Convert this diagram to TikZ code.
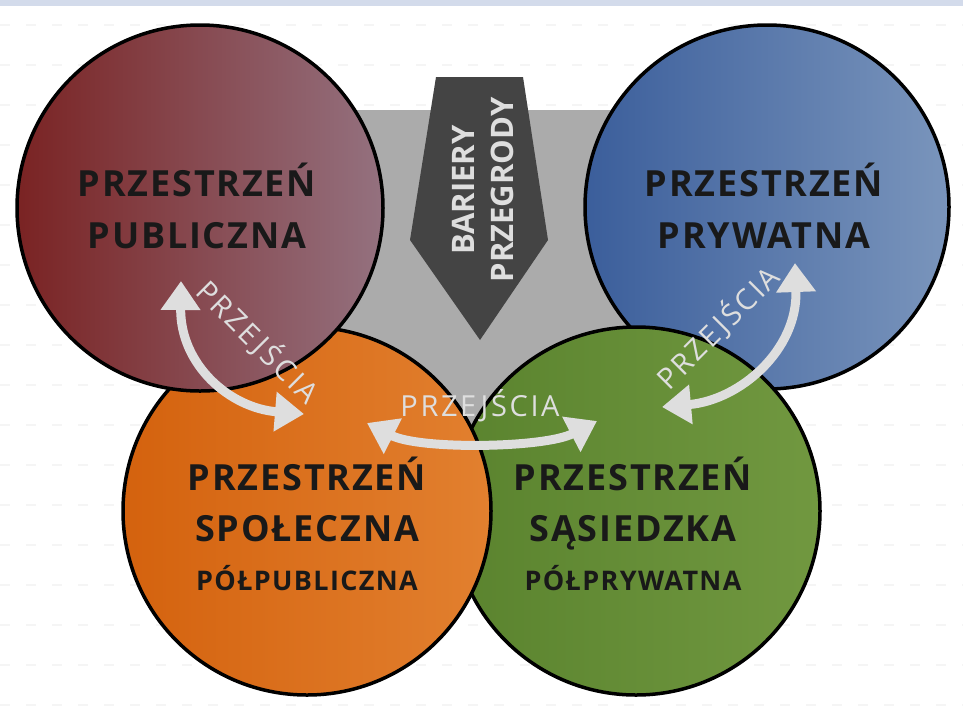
\documentclass[tikz,border=0pt]{standalone}
\usepackage{fontspec}
\setmainfont{Open Sans}
\newfontfamily\spacedfont[LetterSpace=5]{Open Sans}
\newfontfamily\passfont[LetterSpace=9]{Open Sans}
\usetikzlibrary{arrows.meta}
\definecolor{redA}{HTML}{7A2323}
\definecolor{redB}{HTML}{94717F}
\definecolor{blueA}{HTML}{3B5E9B}
\definecolor{blueB}{HTML}{7A95BC}
\definecolor{orangeA}{HTML}{D4620E}
\definecolor{orangeB}{HTML}{E2802F}
\definecolor{greenA}{HTML}{5A832E}
\definecolor{greenB}{HTML}{719840}
\definecolor{barrier}{HTML}{444444}
\definecolor{passage}{HTML}{DEDEDE}
\definecolor{topband}{HTML}{D3DBEB}

\begin{document}
\begin{tikzpicture}[x=1pt, y=-1pt,
        circ/.style={circle, draw=black, line width=3.5pt, minimum size=#1, inner sep=0pt},
        head/.style={anchor=base, text=black!90, font=\spacedfont\bfseries\fontsize{36}{40}\selectfont},
        sub/.style={anchor=base, text=black!90, font=\spacedfont\bfseries\fontsize{27}{30}\selectfont},
        pass/.style={text=passage, text height=21pt, text depth=0pt, font=\passfont\fontsize{29}{32}\selectfont},
        bar/.style={rotate=90, text=passage, text height=22pt, text depth=0pt, font=\bfseries\fontsize{31}{34}\selectfont},
        arr/.style={{Triangle[length=29pt,width=38pt]}-{Triangle[length=29pt,width=38pt]}, line width=9pt, draw=passage}]
      \useasboundingbox (0,0) rectangle (963,721);
      \fill[topband] (0,0) rectangle (963,6);
      \foreach \y in {25,65,...,705}
        \draw[black!4, line width=1.5pt, dash pattern=on 10pt off 16pt] (0,\y) -- (963,\y);
      \fill[black!33] (300,110) rectangle (680,480);
      \fill[barrier] (436,77) -- (523,77) -- (548,240) -- (480,340) -- (410,240) -- cycle;
      \node[bar] (bar1) at (463,190) {BARIERY};
      \node[bar] (bar2) at (502,190) {PRZEGRODY};
      \node[circ=364pt, left color=blueA, right color=blueB] (pryw) at (767,207) {};
      \node[circ=368pt, left color=greenA, right color=greenB] (sas) at (636,511) {};
      \node[circ=368pt, left color=orangeA, right color=orangeB] (spol) at (307,511) {};
      \node[circ=366pt, left color=redA, right color=redB] (publ) at (200,208) {};
      \node[head] (publ1) at (197,196) {PRZESTRZEŃ};
      \node[head] (publ2) at (197,248) {PUBLICZNA};
      \node[head] (pryw1) at (764,196) {PRZESTRZEŃ};
      \node[head] (pryw2) at (764,248) {PRYWATNA};
      \node[head] (spol1) at (307,490) {PRZESTRZEŃ};
      \node[head] (spol2) at (307,541) {SPOŁECZNA};
      \node[sub] (spol3) at (307,590) {PÓŁPUBLICZNA};
      \node[head] (sas1) at (633,490) {PRZESTRZEŃ};
      \node[head] (sas2) at (633,541) {SĄSIEDZKA};
      \node[sub] (sas3) at (633,590) {PÓŁPRYWATNA};
      \coordinate (a1) at (181,281); \coordinate (a2) at (304,414);
      \coordinate (b1) at (367,423); \coordinate (b2) at (597,421);
      \coordinate (c1) at (795,263); \coordinate (c2) at (662,407);
      \draw[arr] (a1) .. controls (180,365) and (230,408) .. (a2);
      \draw[arr] (b1) .. controls (420,450) and (545,448) .. (b2);
      \draw[arr] (c1) .. controls (798,350) and (740,400) .. (c2);
      \node[pass, rotate=-45] (pa) at (258,342) {PRZEJŚCIA};
      \node[pass] (pb) at (480,406) {PRZEJŚCIA};
      \node[pass, rotate=45] (pc) at (718,328) {PRZEJŚCIA};
      \end{tikzpicture}
\end{document}
